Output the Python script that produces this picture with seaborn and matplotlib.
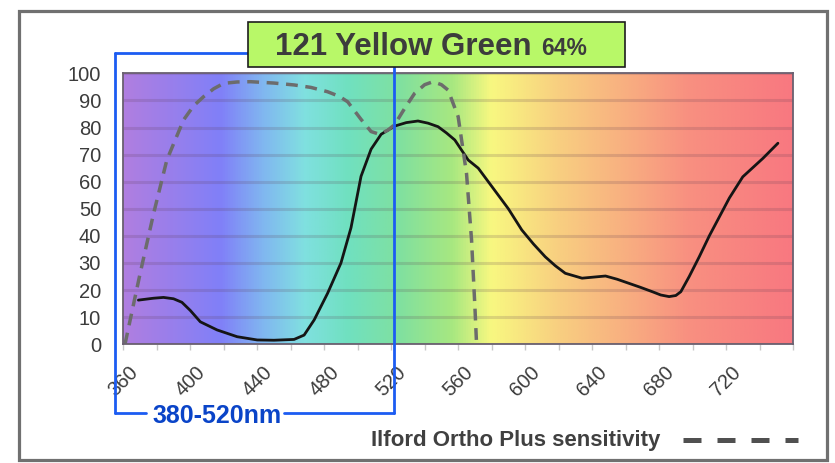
import matplotlib.pyplot as plt
import numpy as np
import seaborn as sns
from matplotlib.colors import LinearSegmentedColormap
from matplotlib.lines import Line2D
from matplotlib.patches import Rectangle

# ---------- data ----------

# filter 121 Yellow Green transmission (solid line)
filter_nm = [369, 378, 384, 390, 395, 400, 406, 416, 428, 440, 450, 462, 468,
             474, 482, 490, 496, 502, 508, 514, 522, 529, 536, 542, 548, 553,
             558, 566, 572, 584, 590, 598, 605, 612, 618, 624, 634, 641, 648,
             655, 662, 669, 676, 681, 686, 690, 693, 698, 704, 710, 716, 722,
             730, 742, 751]
filter_pct = [16.3, 17.0, 17.3, 16.8, 15.5, 12.5, 8.3, 5.3, 2.8, 1.6, 1.5, 1.8,
              3.4, 9.0, 18.8, 30.0, 43.0, 62.0, 72.0, 77.5, 80.5, 81.8, 82.4,
              81.6, 80.3, 78.0, 75.4, 68.0, 65.0, 55.0, 50.0, 42.2, 37.0, 32.3,
              29.0, 26.2, 24.4, 24.8, 25.2, 24.0, 22.5, 21.0, 19.4, 18.2, 17.6,
              18.0, 19.4, 25.0, 32.3, 40.0, 47.0, 54.0, 61.8, 68.6, 74.2]

# Ilford Ortho Plus sensitivity (dashed line)
film_nm = [361, 370, 378, 386, 396, 402, 408, 414, 420, 428, 436, 450, 462,
           472, 482, 489, 494, 502, 508, 513, 518, 522, 528, 534, 540, 545,
           550, 554, 560, 565, 568, 570, 571]
film_pct = [0.0, 26.0, 48.0, 68.0, 82.8, 88.0, 91.4, 94.3, 96.3, 96.8, 96.9,
            96.4, 95.7, 94.8, 93.2, 91.5, 89.5, 83.0, 78.5, 77.5, 79.0, 81.0,
            87.0, 92.6, 95.8, 96.9, 95.8, 93.8, 84.0, 63.0, 38.5, 13.9, 0.0]

x_ticks = [360, 400, 440, 480, 520, 560, 600, 640, 680, 720]
y_ticks = list(range(0, 101, 10))

filter_name = "121 Yellow Green"
filter_pass = "64%"
band_label = "380-520nm"
film_label = "Ilford Ortho Plus sensitivity"

# spectrum backdrop (position in nm, colour)
spectrum_stops = [(360, "#b07ee0"), (418, "#8080f8"), (444, "#80b8f0"),
                  (468, "#80e0e0"), (494, "#70e0c0"), (525, "#80e0a0"),
                  (557, "#a8e880"), (580, "#f8f880"), (619, "#f8d080"),
                  (659, "#f8b080"), (698, "#f89080"), (760, "#f87880")]

# ---------- drawing ----------

sns.set_theme(style="white")
plt.rcParams["font.family"] = ["Liberation Sans", "DejaVu Sans"]

W, H = 835, 463
fig = plt.figure(figsize=(W / 100, H / 100), dpi=100)


def fx(px):
    return px / W


def fy(py):
    return 1 - py / H


ax = fig.add_axes([fx(123.3), fy(344.3), fx(793) - fx(123.3), fy(73.3) - fy(344.3)])

lo, hi = spectrum_stops[0][0], spectrum_stops[-1][0]
cmap = LinearSegmentedColormap.from_list(
    "spectrum", [((nm - lo) / (hi - lo), c) for nm, c in spectrum_stops]
)
ax.imshow(np.linspace(0, 1, 512)[None, :], extent=[lo, hi, 0, 100],
          aspect="auto", cmap=cmap, zorder=0)

sns.lineplot(x=filter_nm, y=filter_pct, color="#151515", lw=2.0, ax=ax, sort=False)
sns.lineplot(x=film_nm, y=film_pct, color="#6c6c6c", lw=2.5, ax=ax, sort=False)
ax.lines[-1].set_dashes([3.4, 2.2])

ax.set_xlim(lo, hi)
ax.set_ylim(0, 100)
ax.set_xticks(x_ticks)
ax.set_xticks(range(360, 761, 20), minor=True)
ax.set_yticks(y_ticks)
ax.set_xticklabels([str(t) for t in x_ticks], rotation=45, ha="center")
ax.tick_params(axis="x", which="both", bottom=True, length=4, width=1,
               color="#c8c8c8", labelsize=14.5, labelcolor="#3c3c3c", pad=9)
ax.tick_params(axis="y", length=0, labelsize=14.5, labelcolor="#3c3c3c", pad=16)

ax.set_axisbelow("line")
ax.yaxis.grid(True, color="#5a3a50", alpha=0.18, lw=2.2)
for sp in ax.spines.values():
    sp.set_color("#6a6070")
    sp.set_linewidth(1.3)

# outer frame
fig.add_artist(Rectangle((fx(19), fy(460)), fx(827) - fx(19), fy(11) - fy(460),
                         transform=fig.transFigure, fill=False,
                         ec="#707070", lw=2.3, zorder=1))

# blue bracket marking the pass band
blue = "#1c5cf2"
for xs, ys in [([115, 115], [53, 413]), ([115, 248], [53, 53]),
               ([394, 394], [67, 413]), ([115, 146], [413, 413]),
               ([284, 394], [413, 413])]:
    fig.add_artist(Line2D([fx(v) for v in xs], [fy(v) for v in ys],
                          transform=fig.transFigure, color=blue, lw=2.0, zorder=5))
fig.text(fx(217), fy(423), band_label, ha="center", va="baseline",
         fontsize=18, fontweight="bold", color="#0a44c8")

# filter name box
fig.add_artist(Rectangle((fx(248), fy(67)), fx(625) - fx(248), fy(22) - fy(67),
                         transform=fig.transFigure, fc="#b8f868", ec="#1e1e1e",
                         lw=1.2, zorder=6))
fig.text(fx(275), fy(55), filter_name, ha="left", va="baseline", fontsize=22.5,
         fontweight="bold", color="#3c3c3c", zorder=7)
fig.text(fx(541), fy(55), filter_pass, ha="left", va="baseline", fontsize=16.5,
         fontweight="bold", color="#3c3c3c", zorder=7)

# legend for the dashed curve
fig.text(fx(660), fy(446), film_label, ha="right", va="baseline", fontsize=16,
         fontweight="bold", color="#404040")
fig.add_artist(Line2D([fx(683), fx(798)], [fy(440), fy(440)],
                      transform=fig.transFigure, color="#505050", lw=3.6,
                      dashes=[3.6, 3.2], solid_capstyle="butt",
                      dash_capstyle="butt"))

fig.savefig("out.png", dpi=100)
